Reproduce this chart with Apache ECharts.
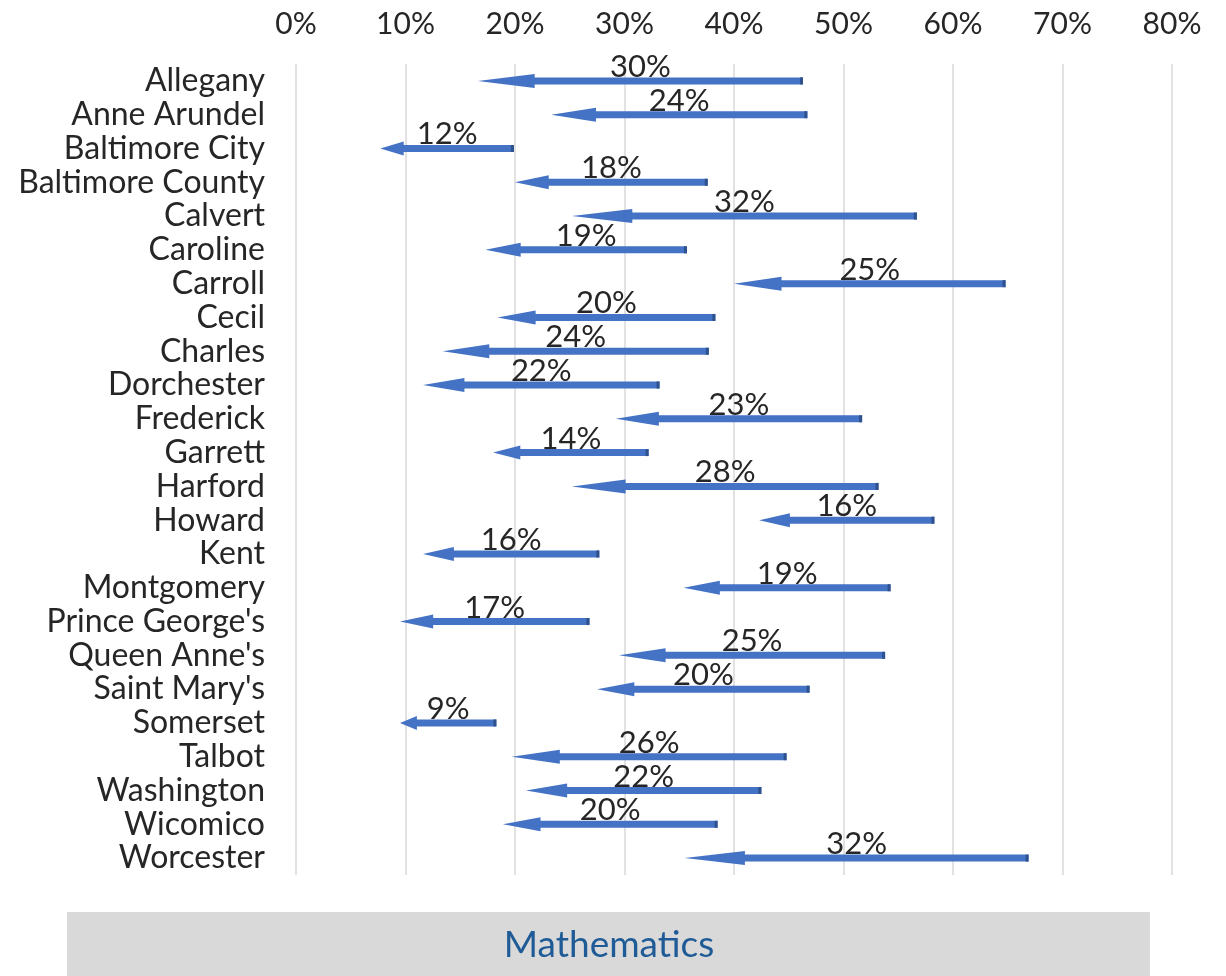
<!DOCTYPE html>
<html>
<head>
<meta charset="utf-8">
<style>
  html, body { margin: 0; padding: 0; background: #fff; }
  #main { width: 1226px; height: 976px; }
</style>
<script src="https://cdn.jsdelivr.net/npm/echarts@6/dist/echarts.min.js"></script>
</head>
<body>
<div id="main"></div>
<script>
// districts, top to bottom
var districts = ['Allegany', 'Anne Arundel', 'Baltimore City', 'Baltimore County', 'Calvert', 'Caroline',
  'Carroll', 'Cecil', 'Charles', 'Dorchester', 'Frederick', 'Garrett', 'Harford', 'Howard', 'Kent',
  'Montgomery', "Prince George's", "Queen Anne's", "Saint Mary's", 'Somerset', 'Talbot', 'Washington',
  'Wicomico', 'Worcester']
// arrow tail (from) and head (to), in percent
var fromPct = [46.3, 46.7, 19.9, 37.6, 56.7, 35.7, 64.8, 38.3, 37.7, 33.2, 51.7, 32.2, 53.2, 58.3, 27.7,
  54.3, 26.8, 53.8, 46.9, 18.3, 44.8, 42.5, 38.5, 66.9]
var toPct = [16.6, 23.3, 7.7, 20.0, 25.2, 17.3, 40.0, 18.4, 13.4, 11.6, 29.2, 18.0, 25.2, 42.3, 11.6,
  35.4, 9.5, 29.5, 27.5, 9.5, 19.7, 21.0, 18.9, 35.5]
// drop labels
var dropPct = [30, 24, 12, 18, 32, 19, 25, 20, 24, 22, 23, 14, 28, 16, 16, 19, 17, 25, 20, 9, 26, 22, 20, 32]
var xTicks = [0, 80, 10]

var textColor = '#262626'
var arrowColor = '#4472c4'

var chart = echarts.init(document.getElementById('main'))

var seriesData = districts.map(function (name, i) {
  return [fromPct[i], toPct[i], i, dropPct[i]]
})

function renderArrow(params, api) {
  var tail = api.coord([api.value(0), api.value(2)])
  var tip = api.coord([api.value(1), api.value(2)])
  var y = tail[1]
  var len = tail[0] - tip[0]
  var head = len * 0.175
  var sh = 3.5, hh = 7
  var hx = tip[0] + head
  return {
    type: 'group',
    children: [{
      type: 'polygon',
      shape: {
        points: [[tail[0], y - sh], [hx, y - sh], [hx, y - hh], [tip[0], y],
          [hx, y + hh], [hx, y + sh], [tail[0], y + sh]]
      },
      style: { fill: arrowColor }
    }, {
      type: 'rect',
      shape: { x: tail[0] - 3, y: y - sh, width: 3, height: sh * 2 },
      style: { fill: '#2f528f' }
    }, {
      type: 'text',
      style: {
        text: api.value(3) + '%',
        x: (tail[0] + tip[0]) / 2,
        y: y - 14,
        align: 'center',
        verticalAlign: 'middle',
        fill: textColor,
        font: '31px Lato'
      }
    }]
  }
}

chart.setOption({
  animation: false,
  grid: { left: 296, right: 54, top: 64, bottom: 101 },
  xAxis: {
    type: 'value',
    position: 'top',
    min: xTicks[0],
    max: xTicks[1],
    interval: xTicks[2],
    axisLine: { show: false },
    axisTick: { show: false },
    splitLine: { lineStyle: { color: '#d9d9d9', width: 1.5 } },
    axisLabel: {
      formatter: '{value}%',
      color: textColor,
      fontFamily: 'Lato',
      fontSize: 30,
      margin: 25
    }
  },
  yAxis: {
    type: 'category',
    inverse: true,
    data: districts,
    axisLine: { show: false },
    axisTick: { show: false },
    splitLine: { show: false },
    axisLabel: {
      interval: 0,
      color: textColor,
      fontFamily: 'Lato',
      fontSize: 32,
      margin: 31
    }
  },
  series: [{
    type: 'custom',
    renderItem: renderArrow,
    encode: { x: [0, 1], y: 2 },
    data: seriesData
  }],
  graphic: [{
    type: 'rect',
    shape: { x: 67, y: 912, width: 1083, height: 64 },
    style: { fill: '#d9d9d9' }
  }, {
    type: 'text',
    style: {
      text: 'Mathematics',
      x: 609,
      y: 945,
      align: 'center',
      verticalAlign: 'middle',
      fill: '#1f5b96',
      font: '37px Lato'
    }
  }]
})
</script>
</body>
</html>
